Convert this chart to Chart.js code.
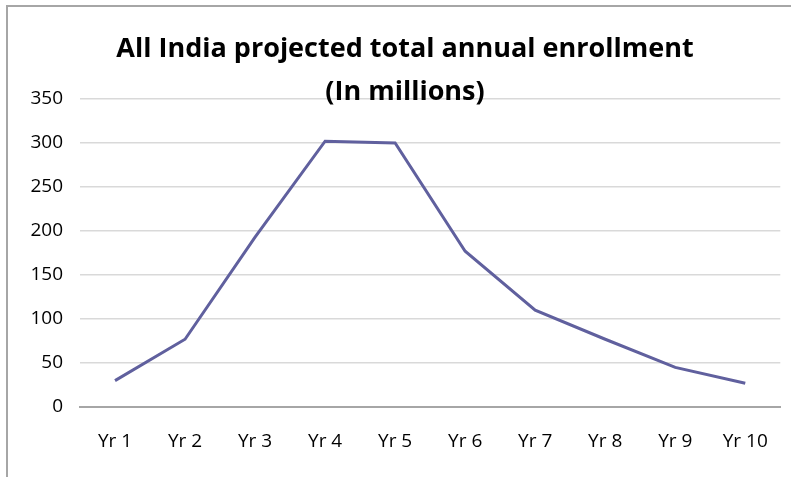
<!DOCTYPE html>
<html>
<head>
<meta charset="utf-8">
<script src="https://cdn.jsdelivr.net/npm/chart.js@4"></script>
<style>
  html, body { margin: 0; padding: 0; background: #fff; }
  #wrap { position: relative; width: 791px; height: 477px; }
  #frame { position: absolute; left: 6px; top: 5px; right: -5px; bottom: -5px; border: 2px solid #a6a6a6; }
  canvas { position: absolute; left: 0; top: 0; }
</style>
</head>
<body>
<div id="wrap">
  <div id="frame"></div>
  <canvas id="myChart" width="791" height="477"></canvas>
</div>
<script>
  const labels = ['Yr 1', 'Yr 2', 'Yr 3', 'Yr 4', 'Yr 5', 'Yr 6', 'Yr 7', 'Yr 8', 'Yr 9', 'Yr 10'];
  const enrollment = [30, 77, 193, 302, 300, 177, 110, 77, 45, 27];
  const titleLines = ['All India projected total annual enrollment', '(In millions)'];

  const yMin = 0, yMax = 350, yStep = 50;

  // title sits over the plot like in the original, so draw it by hand
  const titlePlugin = {
    id: 'overTitle',
    afterDraw(chart) {
      const ctx = chart.ctx;
      ctx.save();
      ctx.fillStyle = '#000';
      ctx.font = 'bold 27px "Open Sans"';
      ctx.textAlign = 'center';
      ctx.textBaseline = 'alphabetic';
      ctx.fillText(titleLines[0], 405, 57);
      ctx.fillText(titleLines[1], 405, 100);
      ctx.restore();
    }
  };

  const data = {
    labels: labels,
    datasets: [{
      label: 'Enrollment',
      data: enrollment,
      borderColor: '#60609e',
      borderWidth: 3,
      pointRadius: 0,
      tension: 0,
      fill: false
    }]
  };

  const config = {
    type: 'line',
    data: data,
    plugins: [titlePlugin],
    options: {
      responsive: false,
      animation: false,
      layout: {
        padding: { left: 8, right: 4, top: 99, bottom: 0 }
      },
      scales: {
        x: {
          offset: true,
          grid: { display: false, drawTicks: false },
          border: { display: true, color: '#a6a6a6', width: 2 },
          ticks: {
            color: '#000',
            padding: 23,
            maxRotation: 0,
            font: { family: 'Open Sans', size: 19 }
          },
          afterFit(scale) { scale.height = 70; }
        },
        y: {
          min: yMin,
          max: yMax,
          ticks: {
            stepSize: yStep,
            color: '#000',
            padding: 17,
            font: { family: 'Open Sans', size: 19 }
          },
          grid: {
            drawTicks: false,
            color: (c) => c.tick && c.tick.value === 0 ? '#a6a6a6' : '#d9d9d9',
            lineWidth: (c) => c.tick && c.tick.value === 0 ? 2 : 1.5
          },
          border: { display: false },
          afterFit(scale) { scale.width = 72; }
        }
      },
      plugins: {
        legend: { display: false },
        title: { display: false },
        tooltip: { enabled: false }
      }
    }
  };

  const myChart = new Chart(document.getElementById('myChart'), config);
</script>
</body>
</html>
